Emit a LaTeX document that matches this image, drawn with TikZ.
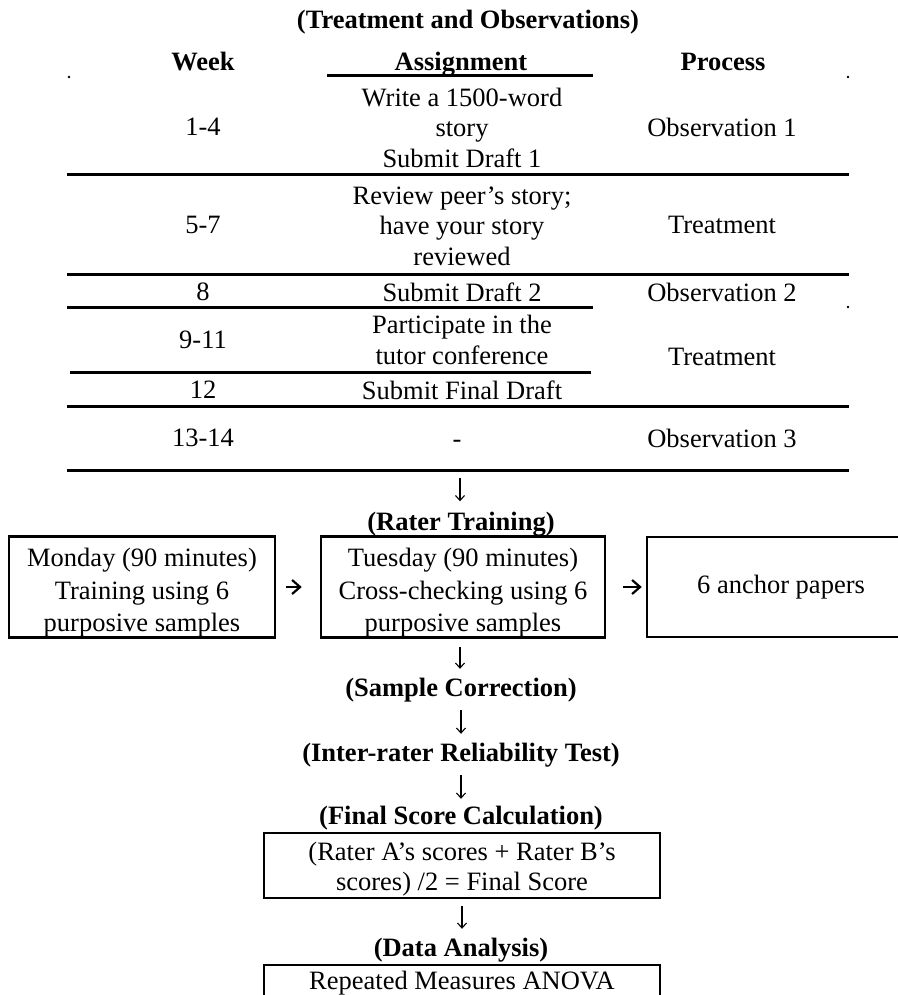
\documentclass[tikz,border=0pt]{standalone}
\usepackage{fontspec}
\setmainfont{Liberation Serif}
\usetikzlibrary{arrows.meta}
\newcommand{\tf}{\fontsize{26.5}{30.5}\selectfont}
\newcommand{\hf}{\fontsize{26.5}{30.5}\selectfont\bfseries}
\newcommand{\bxf}{\fontsize{26.5}{32.5}\selectfont}
\newcommand{\lowr}[1]{\rule{0pt}{#1}}

\begin{document}
\begin{tikzpicture}[x=1pt,y=-1pt]
                        \tikzstyle{cell}=[font=\tf, align=center, inner sep=0pt]
                        \tikzstyle{head}=[font=\hf, inner sep=0pt, text height=21.5pt, text depth=3.5pt]
                        \tikzstyle{rule}=[line width=3pt]
                        \tikzstyle{box}=[draw, line width=2.5pt, font=\bxf, align=center, inner sep=0pt]
                        \tikzstyle{down}=[-{Straight Barb[length=5pt,width=9pt]}, line width=1.1pt, shorten <=8pt, shorten >=5.5pt]
                        \tikzstyle{across}=[-{Straight Barb[length=8pt,width=14pt]}, line width=2.2pt]
                        \useasboundingbox (0,0) rectangle (897,995);
                        % (Treatment and Observations)
                        \node[head] (title) at (468,20) {(Treatment and Observations)};
                        \node[head] (week) at (203,62) {Week};
                        \node[head] (assign) at (461,62) {Assignment};
                        \node[head] (process) at (723,62) {Process};
                        \fill (69,77) circle (1.3pt);
                        \fill (848,77) circle (1.3pt);
                        \fill (848,307) circle (1.3pt);
                        \draw[rule] (327,76) -- (593,76);
                        \draw[rule] (67,175) -- (849,175);
                        \draw[rule] (67,274) -- (849,274);
                        \draw[rule] (67,307.5) -- (593,307.5);
                        \draw[rule] (70,372) -- (591,372);
                        \draw[rule] (67,406) -- (849,406);
                        \draw[rule] (67,470) -- (849,470);
                        \node[cell] (wk1) at (203,127) {1-4};
                        \node[cell] (as1) at (462,127.5) {Write a 1500-word\\story\\Submit Draft 1};
                        \node[cell] (pr1) at (722,127) {Observation 1};
                        \node[cell] (wk2) at (203,225) {5-7};
                        \node[cell] (as2) at (462,226) {Review peer’s story;\\have your story\\reviewed};
                        \node[cell] (pr2) at (722,225) {Treatment};
                        \node[cell] (wk3) at (203,292) {8};
                        \node[cell] (as3) at (462,292) {Submit Draft 2};
                        \node[cell] (pr3) at (722,292) {Observation 2};
                        \node[cell] (wk4) at (203,340) {9-11};
                        \node[cell] (as4) at (462,340) {Participate in the\\tutor conference};
                        \node[cell] (pr4) at (722,357) {Treatment};
                        \node[cell] (wk5) at (203,390) {12};
                        \node[cell] (as5) at (462,390) {Submit Final Draft};
                        \node[cell] (wk6) at (203,438) {13-14};
                        \node[cell, text height=18pt] (as6) at (457,438) {-};
                        \node[cell] (pr6) at (722,438) {Observation 3};
                        \coordinate (tblend) at (460,470);
                        % (Rater Training)
                        \node[head] (rater) at (461,521) {(Rater Training)};
                        \node[box, minimum width=266pt, minimum height=100pt] (mon) at (142,587)
                            {\lowr{30pt}Monday (90 minutes)\\Training using 6\\purposive samples};
                        \node[box, minimum width=284pt, minimum height=100pt] (tue) at (463,587)
                            {\lowr{30pt}Tuesday (90 minutes)\\Cross-checking using 6\\purposive samples};
                        \node[box, minimum width=268pt, minimum height=100pt] (anchor) at (781,587)
                            {6 anchor papers};
                        \draw[across, shorten <=10pt, shorten >=18pt] (mon.east) -- (tue.west);
                        \draw[across, shorten <=17pt, shorten >=4pt] (tue.east) -- (anchor.west);
                        \draw[down, shorten >=7pt] (tblend) -- (tblend |- rater.north);
                        % (Sample Correction) ... (Data Analysis)
                        \node[head] (sample) at (461,687) {(Sample Correction)};
                        \node[head] (inter) at (461,752) {(Inter-rater Reliability Test)};
                        \node[head] (final) at (461,815) {(Final Score Calculation)};
                        \node[box, font=\tf, minimum width=396pt, minimum height=65pt] (calc) at (462,865.5)
                            {\lowr{26pt}(Rater A’s scores + Rater B’s\\scores) /2 = Final Score};
                        \node[head] (analysis) at (461,947) {(Data Analysis)};
                        \node[box, font=\tf, minimum width=396pt, minimum height=36pt] (anova) at (462,983)
                            {Repeated Measures ANOVA};
                        \draw[down] ([xshift=-3pt]tue.south) -- ([xshift=-3pt]tue.south |- sample.north);
                        \draw[down, shorten <=10.5pt] (sample.south) -- (inter.north);
                        \draw[down, shorten <=10.5pt, shorten >=3.5pt] (inter.south) -- (final.north);
                        \draw[down, shorten <=7pt] (calc.south) -- (calc.south |- analysis.north);
\end{tikzpicture}
\end{document}
